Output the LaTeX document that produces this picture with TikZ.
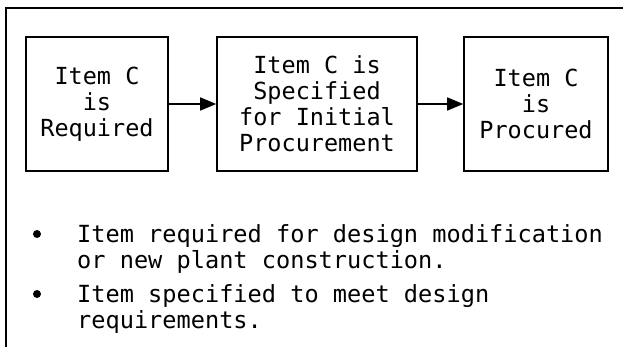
\documentclass[tikz,border=0pt]{standalone}
\usepackage{fontspec}
\newfontfamily\itemfont{DejaVu Sans Mono}
\usetikzlibrary{arrows.meta}

\begin{document}
\begin{tikzpicture}[x=1pt,y=-1pt]

    \tikzset{
      stage/.style={
        draw,
        line width=1.6pt,
        align=center,
        inner sep=0pt,
        minimum height=134pt,
        font=\itemfont\fontsize{23.5}{26}\selectfont,
      },
      flow/.style={
        line width=1.6pt,
        -{Triangle[length=16pt,width=13pt]},
      },
      dot/.style={
        circle,
        fill,
        inner sep=0pt,
        minimum size=8pt,
      },
      note/.style={
        anchor=base west,
        align=left,
        inner sep=0pt,
        font=\itemfont\fontsize{23.6}{26}\selectfont,
      },
    }
    \useasboundingbox (0,0) rectangle (623,347);
    \draw[line width=1.8pt] (6,347)--(6,8)--(623,8);

    \node[stage, minimum width=142pt] (required) at (97,104) {Item C\\is\\Required};
    \node[stage, minimum width=200pt] (specified) at (317,104) {Item C is\\Specified\\for Initial\\Procurement};
    \node[stage, minimum width=144pt] (procured) at (536,104) {Item C\\is\\Procured};

    \draw[flow] (required) -- (specified);
    \draw[flow] (specified) -- (procured);

    % bullets, base anchor sits on the last line
    \node[dot] (b1) at (37,234) {};
    \node[note] (n1) at (77,268) {Item required for design modification\\or new plant construction.};
    \node[dot] (b2) at (37,294) {};
    \node[note] (n2) at (77,328) {Item specified to meet design\\requirements.};

\end{tikzpicture}
\end{document}
